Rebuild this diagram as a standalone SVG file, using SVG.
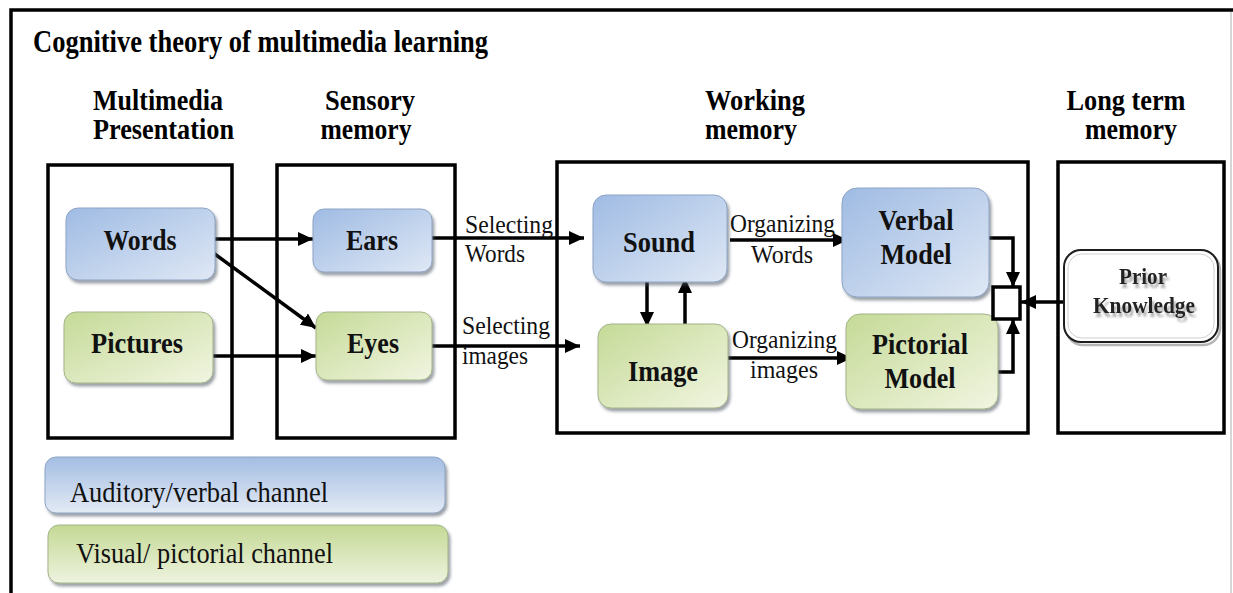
<svg xmlns="http://www.w3.org/2000/svg" width="1233" height="593" viewBox="0 0 1233 593">
  <defs>
    <linearGradient id="blueFill" x1="0" y1="0" x2="1" y2="1">
      <stop offset="0" stop-color="#9fbbe3"/>
      <stop offset="1" stop-color="#dfe8f5"/>
    </linearGradient>
    <linearGradient id="greenFill" x1="0" y1="0" x2="1" y2="1">
      <stop offset="0" stop-color="#c5da97"/>
      <stop offset="1" stop-color="#f1f5e1"/>
    </linearGradient>
    <linearGradient id="blueBar" x1="0" y1="0" x2="0" y2="1">
      <stop offset="0" stop-color="#a3bde2"/>
      <stop offset="1" stop-color="#e3eaf5"/>
    </linearGradient>
    <linearGradient id="greenBar" x1="0" y1="0" x2="0" y2="1">
      <stop offset="0" stop-color="#c4d994"/>
      <stop offset="1" stop-color="#eef3df"/>
    </linearGradient>
    <filter id="shade" x="-10%" y="-10%" width="130%" height="140%">
      <feDropShadow dx="2" dy="3" stdDeviation="1.5" flood-color="#4a5260" flood-opacity="0.55"/>
    </filter>
    <!-- soft grey echo under the prior-knowledge lettering -->
    <filter id="echo" x="-10%" y="-40%" width="120%" height="190%">
      <feOffset in="SourceAlpha" dx="2" dy="4" result="off"/>
      <feGaussianBlur in="off" stdDeviation="1" result="blur"/>
      <feFlood flood-color="#777" flood-opacity="0.6"/>
      <feComposite in2="blur" operator="in" result="shadow"/>
      <feMerge>
        <feMergeNode in="shadow"/>
        <feMergeNode in="SourceGraphic"/>
      </feMerge>
    </filter>
    <marker id="arrow" markerUnits="userSpaceOnUse" markerWidth="16" markerHeight="14" refX="15" refY="7" orient="auto">
      <path d="M0,0 L15,7 L0,14 z" fill="#000"/>
    </marker>
    <style>
      .frame { fill: none; stroke: #000; stroke-width: 3.5; }
      .stage { fill: #fff; stroke: #000; stroke-width: 3.5; }
      .blue { fill: url(#blueFill); stroke: #8ea4c4; stroke-width: 1; filter: url(#shade); }
      .green { fill: url(#greenFill); stroke: #a3b389; stroke-width: 1; filter: url(#shade); }
      .title { font-family: "Liberation Serif", "Times New Roman", serif; font-weight: bold; font-size: 31px; fill: #000; }
      .head { font-family: "Liberation Serif", "Times New Roman", serif; font-weight: bold; font-size: 29px; fill: #000; }
      .label { font-family: "Liberation Serif", "Times New Roman", serif; font-weight: bold; font-size: 29px; fill: #111; text-anchor: middle; }
      .edge-label { font-family: "Liberation Serif", "Times New Roman", serif; font-size: 25px; fill: #111; }
      .legend { font-family: "Liberation Serif", "Times New Roman", serif; font-size: 29px; fill: #111; }
      .pk { font-family: "Liberation Serif", "Times New Roman", serif; font-weight: bold; font-size: 23px; text-anchor: middle; fill: #222; }
      .wire { fill: none; stroke: #000; stroke-width: 3.5; }
    </style>
  </defs>

  <rect width="1233" height="593" fill="#fff"/>

  <!-- page border -->
  <path class="frame" d="M11,593 L11,10 L1233,10"/>
  <line x1="1231" y1="12" x2="1231" y2="593" stroke="#c8c8c8" stroke-width="1.5"/>

  <text class="title" x="33" y="52" textLength="455" lengthAdjust="spacingAndGlyphs">Cognitive theory of multimedia learning</text>

  <!-- column headings -->
  <g id="headings">
    <text class="head" x="93" y="110" textLength="130" lengthAdjust="spacingAndGlyphs">Multimedia</text>
    <text class="head" x="93" y="139" textLength="141" lengthAdjust="spacingAndGlyphs">Presentation</text>
    <text class="head" x="370" y="110" text-anchor="middle" textLength="90" lengthAdjust="spacingAndGlyphs">Sensory</text>
    <text class="head" x="366" y="139" text-anchor="middle" textLength="91" lengthAdjust="spacingAndGlyphs">memory</text>
    <text class="head" x="705" y="110" textLength="100" lengthAdjust="spacingAndGlyphs">Working</text>
    <text class="head" x="705" y="139" textLength="92" lengthAdjust="spacingAndGlyphs">memory</text>
    <text class="head" x="1126" y="110" text-anchor="middle" textLength="119" lengthAdjust="spacingAndGlyphs">Long term</text>
    <text class="head" x="1131" y="139" text-anchor="middle" textLength="92" lengthAdjust="spacingAndGlyphs">memory</text>
  </g>

  <!-- stage containers -->
  <g id="stage-presentation"><rect class="stage" x="48" y="165" width="184" height="273"/></g>
  <g id="stage-sensory"><rect class="stage" x="277" y="165" width="178" height="273"/></g>
  <g id="stage-working"><rect class="stage" x="557" y="162" width="471" height="271"/></g>
  <g id="stage-longterm"><rect class="stage" x="1058" y="162" width="166" height="271"/></g>

  <!-- connectors -->
  <g id="connectors">
    <line class="wire" x1="212" y1="239" x2="313" y2="239" marker-end="url(#arrow)"/>
    <line class="wire" x1="212" y1="252" x2="316" y2="328" marker-end="url(#arrow)"/>
    <line class="wire" x1="213" y1="356" x2="316" y2="356" marker-end="url(#arrow)"/>
    <line class="wire" x1="432" y1="238" x2="584" y2="238" marker-end="url(#arrow)"/>
    <line class="wire" x1="432" y1="346" x2="580" y2="346" marker-end="url(#arrow)"/>
    <line class="wire" x1="647" y1="282" x2="647" y2="327" marker-end="url(#arrow)"/>
    <line class="wire" x1="685" y1="324" x2="685" y2="278" marker-end="url(#arrow)"/>
    <line class="wire" x1="730" y1="240" x2="848" y2="240" marker-end="url(#arrow)"/>
    <line class="wire" x1="728" y1="358" x2="852" y2="358" marker-end="url(#arrow)"/>
    <path class="wire" d="M989,238 L1013,238 L1013,287" marker-end="url(#arrow)"/>
    <path class="wire" d="M998,372 L1013,372 L1013,319" marker-end="url(#arrow)"/>
    <line class="wire" x1="1064" y1="302" x2="1021" y2="302" marker-end="url(#arrow)"/>

    <text class="edge-label" x="465" y="233" textLength="88" lengthAdjust="spacingAndGlyphs">Selecting</text>
    <text class="edge-label" x="465" y="262" textLength="60" lengthAdjust="spacingAndGlyphs">Words</text>
    <text class="edge-label" x="462" y="334" textLength="88" lengthAdjust="spacingAndGlyphs">Selecting</text>
    <text class="edge-label" x="462" y="364" textLength="66" lengthAdjust="spacingAndGlyphs">images</text>
    <text class="edge-label" x="730" y="232" textLength="105" lengthAdjust="spacingAndGlyphs">Organizing</text>
    <text class="edge-label" x="782" y="263" text-anchor="middle" textLength="62" lengthAdjust="spacingAndGlyphs">Words</text>
    <text class="edge-label" x="732" y="348" textLength="105" lengthAdjust="spacingAndGlyphs">Organizing</text>
    <text class="edge-label" x="784" y="378" text-anchor="middle" textLength="68" lengthAdjust="spacingAndGlyphs">images</text>
  </g>

  <!-- presentation nodes -->
  <g id="node-words">
    <rect class="blue" x="66" y="208" width="149" height="72" rx="12"/>
    <text class="label" x="140" y="250" textLength="73" lengthAdjust="spacingAndGlyphs">Words</text>
  </g>
  <g id="node-pictures">
    <rect class="green" x="64" y="312" width="149" height="71" rx="12"/>
    <text class="label" x="137" y="353" textLength="92" lengthAdjust="spacingAndGlyphs">Pictures</text>
  </g>

  <!-- sensory nodes -->
  <g id="node-ears">
    <rect class="blue" x="313" y="209" width="119" height="63" rx="11"/>
    <text class="label" x="372" y="250" textLength="52" lengthAdjust="spacingAndGlyphs">Ears</text>
  </g>
  <g id="node-eyes">
    <rect class="green" x="316" y="312" width="116" height="68" rx="11"/>
    <text class="label" x="373" y="353" textLength="52" lengthAdjust="spacingAndGlyphs">Eyes</text>
  </g>

  <!-- working memory nodes -->
  <g id="node-sound">
    <rect class="blue" x="593" y="195" width="134" height="87" rx="13"/>
    <text class="label" x="659" y="252" textLength="72" lengthAdjust="spacingAndGlyphs">Sound</text>
  </g>
  <g id="node-image">
    <rect class="green" x="598" y="324" width="130" height="84" rx="13"/>
    <text class="label" x="663" y="381" textLength="70" lengthAdjust="spacingAndGlyphs">Image</text>
  </g>
  <g id="node-verbal-model">
    <rect class="blue" x="842" y="188" width="147" height="109" rx="15"/>
    <text class="label" x="916" y="230" textLength="75" lengthAdjust="spacingAndGlyphs">Verbal</text>
    <text class="label" x="916" y="264" textLength="71" lengthAdjust="spacingAndGlyphs">Model</text>
  </g>
  <g id="node-pictorial-model">
    <rect class="green" x="846" y="314" width="152" height="95" rx="14"/>
    <text class="label" x="920" y="354" textLength="96" lengthAdjust="spacingAndGlyphs">Pictorial</text>
    <text class="label" x="920" y="388" textLength="71" lengthAdjust="spacingAndGlyphs">Model</text>
  </g>
  <g id="node-integration">
    <rect x="993" y="287" width="27" height="32" fill="#fff" stroke="#000" stroke-width="3.5"/>
  </g>

  <!-- long term memory -->
  <g id="node-prior-knowledge">
    <rect x="1066" y="253" width="154" height="92" rx="17" fill="none" stroke="#b5b5b5" stroke-width="2.5"/>
    <rect x="1064" y="250" width="154" height="92" rx="17" fill="#fff" stroke="#1e1e1e" stroke-width="2"/>
    <rect x="1068" y="254" width="146" height="84" rx="14" fill="none" stroke="#cfcfcf" stroke-width="1"/>
    <g filter="url(#echo)">
      <text class="pk" x="1143" y="284" textLength="48" lengthAdjust="spacingAndGlyphs">Prior</text>
      <text class="pk" x="1144" y="313" textLength="102" lengthAdjust="spacingAndGlyphs">Knowledge</text>
    </g>
  </g>

  <!-- channel legend -->
  <g id="legend-auditory">
    <rect x="45" y="457" width="400" height="56" rx="11" fill="url(#blueBar)" stroke="#8ea4c4" stroke-width="1" filter="url(#shade)"/>
    <text class="legend" x="70" y="502" textLength="258" lengthAdjust="spacingAndGlyphs">Auditory/verbal channel</text>
  </g>
  <g id="legend-visual">
    <rect x="48" y="525" width="400" height="58" rx="11" fill="url(#greenBar)" stroke="#a3b389" stroke-width="1" filter="url(#shade)"/>
    <text class="legend" x="76" y="563" textLength="257" lengthAdjust="spacingAndGlyphs">Visual/ pictorial channel</text>
  </g>
</svg>
